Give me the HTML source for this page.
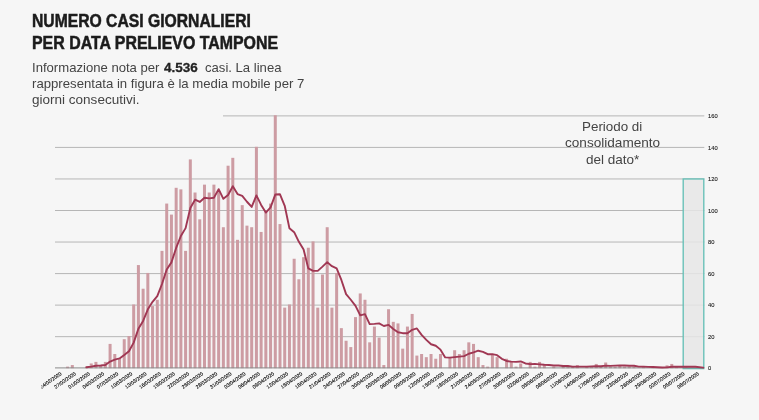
<!DOCTYPE html>
<html lang="it"><head><meta charset="utf-8"><title>Numero casi giornalieri per data prelievo tampone</title>
<style>
html,body{margin:0;padding:0;}
body{width:759px;height:420px;overflow:hidden;background:#f6f6f6;position:relative;font-family:"Liberation Sans",sans-serif;}
svg{position:absolute;left:0;top:0;}
.t{position:absolute;white-space:nowrap;transform-origin:0 0;}
h1{margin:0;font-size:17.6px;line-height:20.8px;font-weight:bold;color:#1c1c1c;-webkit-text-stroke:0.5px #1c1c1c;}
p{margin:0;font-size:13px;line-height:16.4px;color:#444;}
p b{color:#222;font-size:13.4px;margin-left:0.8px;-webkit-text-stroke:0.3px #222;}
.note{text-align:center;color:#444;font-size:13px;line-height:16.7px;}
</style></head><body>
<svg width="759" height="420" viewBox="0 0 759 420">
<defs><clipPath id="lc"><rect x="41.5" y="360" width="720" height="60"/></clipPath></defs>
<line x1="55" y1="336.66" x2="704.3" y2="336.66" stroke="#b6b6b6" stroke-width="1"/>
<line x1="55" y1="305.12" x2="704.3" y2="305.12" stroke="#b6b6b6" stroke-width="1"/>
<line x1="55" y1="273.58" x2="704.3" y2="273.58" stroke="#b6b6b6" stroke-width="1"/>
<line x1="55" y1="242.04" x2="704.3" y2="242.04" stroke="#b6b6b6" stroke-width="1"/>
<line x1="55" y1="210.50" x2="704.3" y2="210.50" stroke="#b6b6b6" stroke-width="1"/>
<line x1="55" y1="178.96" x2="704.3" y2="178.96" stroke="#b6b6b6" stroke-width="1"/>
<line x1="55" y1="147.42" x2="704.3" y2="147.42" stroke="#b6b6b6" stroke-width="1"/>
<line x1="223" y1="115.88" x2="704.3" y2="115.88" stroke="#b6b6b6" stroke-width="1"/>
<rect x="683.2" y="178.96" width="20.6" height="189.64" fill="#e6e6e6" fill-opacity="0.85" stroke="#66c0b7" stroke-width="1.35"/>
<g fill="#cd9ca3"><rect x="66.10" y="366.62" width="3.0" height="1.58"/><rect x="70.82" y="365.05" width="3.0" height="3.15"/><rect x="84.98" y="366.62" width="3.0" height="1.58"/><rect x="89.70" y="363.47" width="3.0" height="4.73"/><rect x="94.42" y="361.89" width="3.0" height="6.31"/><rect x="99.14" y="365.05" width="3.0" height="3.15"/><rect x="103.86" y="361.89" width="3.0" height="6.31"/><rect x="108.58" y="343.91" width="3.0" height="24.29"/><rect x="113.30" y="354.01" width="3.0" height="14.19"/><rect x="118.02" y="358.74" width="3.0" height="9.46"/><rect x="122.74" y="339.18" width="3.0" height="29.02"/><rect x="127.46" y="336.03" width="3.0" height="32.17"/><rect x="132.18" y="304.49" width="3.0" height="63.71"/><rect x="136.90" y="265.06" width="3.0" height="103.14"/><rect x="141.62" y="288.72" width="3.0" height="79.48"/><rect x="146.34" y="272.95" width="3.0" height="95.25"/><rect x="151.06" y="306.07" width="3.0" height="62.13"/><rect x="155.78" y="299.76" width="3.0" height="68.44"/><rect x="160.50" y="250.87" width="3.0" height="117.33"/><rect x="165.22" y="203.56" width="3.0" height="164.64"/><rect x="169.94" y="214.60" width="3.0" height="153.60"/><rect x="174.66" y="187.79" width="3.0" height="180.41"/><rect x="179.38" y="189.37" width="3.0" height="178.83"/><rect x="184.10" y="250.87" width="3.0" height="117.33"/><rect x="188.82" y="159.41" width="3.0" height="208.79"/><rect x="193.54" y="192.52" width="3.0" height="175.68"/><rect x="198.26" y="219.33" width="3.0" height="148.87"/><rect x="202.98" y="184.64" width="3.0" height="183.56"/><rect x="207.70" y="192.52" width="3.0" height="175.68"/><rect x="212.42" y="184.64" width="3.0" height="183.56"/><rect x="217.14" y="190.95" width="3.0" height="177.25"/><rect x="221.86" y="227.22" width="3.0" height="140.98"/><rect x="226.58" y="165.71" width="3.0" height="202.49"/><rect x="231.30" y="157.83" width="3.0" height="210.37"/><rect x="236.02" y="239.83" width="3.0" height="128.37"/><rect x="240.74" y="205.14" width="3.0" height="163.06"/><rect x="245.46" y="225.64" width="3.0" height="142.56"/><rect x="250.18" y="227.22" width="3.0" height="140.98"/><rect x="254.90" y="146.79" width="3.0" height="221.41"/><rect x="259.62" y="231.95" width="3.0" height="136.25"/><rect x="264.34" y="211.45" width="3.0" height="156.75"/><rect x="269.06" y="203.56" width="3.0" height="164.64"/><rect x="273.78" y="115.25" width="3.0" height="252.95"/><rect x="278.50" y="224.06" width="3.0" height="144.14"/><rect x="283.22" y="307.64" width="3.0" height="60.56"/><rect x="287.94" y="304.49" width="3.0" height="63.71"/><rect x="292.66" y="258.76" width="3.0" height="109.44"/><rect x="297.38" y="279.26" width="3.0" height="88.94"/><rect x="302.10" y="257.18" width="3.0" height="111.02"/><rect x="306.82" y="247.72" width="3.0" height="120.48"/><rect x="311.54" y="241.41" width="3.0" height="126.79"/><rect x="316.26" y="307.64" width="3.0" height="60.56"/><rect x="320.98" y="274.53" width="3.0" height="93.67"/><rect x="325.70" y="227.22" width="3.0" height="140.98"/><rect x="330.42" y="307.64" width="3.0" height="60.56"/><rect x="335.14" y="272.95" width="3.0" height="95.25"/><rect x="339.86" y="328.14" width="3.0" height="40.06"/><rect x="344.58" y="340.76" width="3.0" height="27.44"/><rect x="349.30" y="347.07" width="3.0" height="21.13"/><rect x="354.02" y="317.11" width="3.0" height="51.09"/><rect x="358.74" y="293.45" width="3.0" height="74.75"/><rect x="363.46" y="299.76" width="3.0" height="68.44"/><rect x="368.18" y="342.34" width="3.0" height="25.86"/><rect x="372.90" y="326.57" width="3.0" height="41.63"/><rect x="377.62" y="337.61" width="3.0" height="30.59"/><rect x="382.34" y="365.05" width="3.0" height="3.15"/><rect x="387.06" y="309.22" width="3.0" height="58.98"/><rect x="391.78" y="321.84" width="3.0" height="46.36"/><rect x="396.50" y="323.41" width="3.0" height="44.79"/><rect x="401.22" y="348.65" width="3.0" height="19.55"/><rect x="405.94" y="326.57" width="3.0" height="41.63"/><rect x="410.66" y="313.95" width="3.0" height="54.25"/><rect x="415.38" y="355.58" width="3.0" height="12.62"/><rect x="420.10" y="354.01" width="3.0" height="14.19"/><rect x="424.82" y="357.16" width="3.0" height="11.04"/><rect x="429.54" y="354.01" width="3.0" height="14.19"/><rect x="434.26" y="358.74" width="3.0" height="9.46"/><rect x="438.98" y="354.01" width="3.0" height="14.19"/><rect x="448.42" y="357.16" width="3.0" height="11.04"/><rect x="453.14" y="350.22" width="3.0" height="17.98"/><rect x="457.86" y="354.01" width="3.0" height="14.19"/><rect x="462.58" y="350.22" width="3.0" height="17.98"/><rect x="467.30" y="342.34" width="3.0" height="25.86"/><rect x="472.02" y="343.91" width="3.0" height="24.29"/><rect x="476.74" y="357.16" width="3.0" height="11.04"/><rect x="481.46" y="365.05" width="3.0" height="3.15"/><rect x="486.18" y="366.62" width="3.0" height="1.58"/><rect x="490.90" y="354.01" width="3.0" height="14.19"/><rect x="495.62" y="357.16" width="3.0" height="11.04"/><rect x="505.06" y="358.74" width="3.0" height="9.46"/><rect x="509.78" y="361.89" width="3.0" height="6.31"/><rect x="514.50" y="366.62" width="3.0" height="1.58"/><rect x="519.22" y="363.47" width="3.0" height="4.73"/><rect x="528.66" y="361.89" width="3.0" height="6.31"/><rect x="533.38" y="366.62" width="3.0" height="1.58"/><rect x="538.10" y="361.89" width="3.0" height="6.31"/><rect x="542.82" y="365.05" width="3.0" height="3.15"/><rect x="552.26" y="366.62" width="3.0" height="1.58"/><rect x="561.70" y="365.05" width="3.0" height="3.15"/><rect x="566.42" y="366.62" width="3.0" height="1.58"/><rect x="571.14" y="366.62" width="3.0" height="1.58"/><rect x="575.86" y="365.05" width="3.0" height="3.15"/><rect x="585.30" y="366.62" width="3.0" height="1.58"/><rect x="590.02" y="366.62" width="3.0" height="1.58"/><rect x="594.74" y="363.94" width="3.0" height="4.26"/><rect x="599.46" y="366.62" width="3.0" height="1.58"/><rect x="604.18" y="362.52" width="3.0" height="5.68"/><rect x="608.90" y="366.62" width="3.0" height="1.58"/><rect x="613.62" y="366.62" width="3.0" height="1.58"/><rect x="618.34" y="365.05" width="3.0" height="3.15"/><rect x="623.06" y="366.62" width="3.0" height="1.58"/><rect x="627.78" y="366.62" width="3.0" height="1.58"/><rect x="632.50" y="366.62" width="3.0" height="1.58"/><rect x="641.94" y="366.62" width="3.0" height="1.58"/><rect x="651.38" y="366.62" width="3.0" height="1.58"/><rect x="665.54" y="365.36" width="3.0" height="2.84"/><rect x="670.26" y="363.94" width="3.0" height="4.26"/><rect x="674.98" y="366.62" width="3.0" height="1.58"/><rect x="684.42" y="366.62" width="3.0" height="1.58"/></g>
<line x1="55" y1="367.9" x2="704.3" y2="367.9" stroke="#8a8a8a" stroke-width="1"/>
<polyline points="86.48,367.30 91.20,366.62 95.92,365.72 100.64,365.50 105.36,365.05 110.08,361.58 114.80,359.55 119.52,358.42 124.24,354.95 128.96,351.26 133.68,342.61 138.40,328.77 143.12,320.89 147.84,309.31 152.56,301.79 157.28,296.15 162.00,283.99 166.72,269.57 171.44,262.36 176.16,247.94 180.88,236.00 185.60,228.12 190.32,208.07 195.04,199.73 199.76,201.98 204.48,197.70 209.20,198.38 213.92,197.70 218.64,189.14 223.36,198.83 228.08,195.00 232.80,186.21 237.52,194.10 242.24,195.90 246.96,201.76 251.68,206.94 256.40,195.45 261.12,204.91 265.84,212.57 270.56,207.39 275.28,194.55 280.00,194.32 284.72,205.81 289.44,228.34 294.16,232.17 298.88,241.86 303.60,249.52 308.32,268.44 313.04,270.92 317.76,270.92 322.48,266.64 327.20,262.14 331.92,266.19 336.64,268.44 341.36,279.93 346.08,294.13 350.80,299.76 355.52,305.84 360.24,315.30 364.96,314.18 369.68,324.09 374.40,323.86 379.12,323.41 383.84,325.98 388.56,324.86 393.28,328.91 398.00,332.29 402.72,333.19 407.44,333.19 412.16,329.81 416.88,328.46 421.60,334.86 426.32,339.90 431.04,344.27 435.76,345.72 440.48,349.64 445.20,357.39 449.92,357.61 454.64,357.07 459.36,356.62 464.08,356.08 468.80,353.74 473.52,352.29 478.24,350.72 482.96,351.84 487.68,354.19 492.40,354.19 497.12,355.18 501.84,358.87 506.56,360.99 511.28,361.67 516.00,361.89 520.72,361.44 525.44,363.47 530.16,364.14 534.88,363.92 539.60,364.37 544.32,364.82 549.04,365.05 553.76,365.50 558.48,365.50 563.20,365.95 567.92,365.95 572.64,366.62 577.36,366.62 582.08,366.62 586.80,366.62 591.52,366.40 596.24,366.24 600.96,366.24 605.68,365.65 610.40,365.88 615.12,365.65 619.84,365.43 624.56,365.43 629.28,365.81 634.00,365.81 638.72,366.62 643.44,366.62 648.16,366.85 652.88,367.07 657.60,367.30 662.32,367.52 667.04,367.34 671.76,366.74 676.48,366.74 681.20,366.74 685.92,366.74 690.64,366.74 695.36,366.74 703.3,367.65" fill="none" stroke="#a03753" stroke-width="1.9" stroke-linejoin="round" stroke-linecap="round"/>
<g font-family="'Liberation Sans', sans-serif" font-size="5.8" fill="#1a1a1a" stroke="#1a1a1a" stroke-width="0.1"><text x="708" y="370.30">0</text><text x="708" y="338.76">20</text><text x="708" y="307.22">40</text><text x="708" y="275.68">60</text><text x="708" y="244.14">80</text><text x="708" y="212.60">100</text><text x="708" y="181.06">120</text><text x="708" y="149.52">140</text><text x="708" y="117.98">160</text></g>
<g font-family="'Liberation Sans', sans-serif" font-size="5" fill="#000" stroke="#000" stroke-width="0.12" clip-path="url(#lc)"><text transform="translate(59.76,371.30) rotate(-35)" text-anchor="end" dominant-baseline="hanging">24/02/2020</text><text transform="translate(73.92,371.30) rotate(-35)" text-anchor="end" dominant-baseline="hanging">27/02/2020</text><text transform="translate(88.08,371.30) rotate(-35)" text-anchor="end" dominant-baseline="hanging">01/03/2020</text><text transform="translate(102.24,371.30) rotate(-35)" text-anchor="end" dominant-baseline="hanging">04/03/2020</text><text transform="translate(116.40,371.30) rotate(-35)" text-anchor="end" dominant-baseline="hanging">07/03/2020</text><text transform="translate(130.56,371.30) rotate(-35)" text-anchor="end" dominant-baseline="hanging">10/03/2020</text><text transform="translate(144.72,371.30) rotate(-35)" text-anchor="end" dominant-baseline="hanging">13/03/2020</text><text transform="translate(158.88,371.30) rotate(-35)" text-anchor="end" dominant-baseline="hanging">16/03/2020</text><text transform="translate(173.04,371.30) rotate(-35)" text-anchor="end" dominant-baseline="hanging">19/03/2020</text><text transform="translate(187.20,371.30) rotate(-35)" text-anchor="end" dominant-baseline="hanging">22/03/2020</text><text transform="translate(201.36,371.30) rotate(-35)" text-anchor="end" dominant-baseline="hanging">25/03/2020</text><text transform="translate(215.52,371.30) rotate(-35)" text-anchor="end" dominant-baseline="hanging">28/03/2020</text><text transform="translate(229.68,371.30) rotate(-35)" text-anchor="end" dominant-baseline="hanging">31/03/2020</text><text transform="translate(243.84,371.30) rotate(-35)" text-anchor="end" dominant-baseline="hanging">03/04/2020</text><text transform="translate(258.00,371.30) rotate(-35)" text-anchor="end" dominant-baseline="hanging">06/04/2020</text><text transform="translate(272.16,371.30) rotate(-35)" text-anchor="end" dominant-baseline="hanging">09/04/2020</text><text transform="translate(286.32,371.30) rotate(-35)" text-anchor="end" dominant-baseline="hanging">12/04/2020</text><text transform="translate(300.48,371.30) rotate(-35)" text-anchor="end" dominant-baseline="hanging">15/04/2020</text><text transform="translate(314.64,371.30) rotate(-35)" text-anchor="end" dominant-baseline="hanging">18/04/2020</text><text transform="translate(328.80,371.30) rotate(-35)" text-anchor="end" dominant-baseline="hanging">21/04/2020</text><text transform="translate(342.96,371.30) rotate(-35)" text-anchor="end" dominant-baseline="hanging">24/04/2020</text><text transform="translate(357.12,371.30) rotate(-35)" text-anchor="end" dominant-baseline="hanging">27/04/2020</text><text transform="translate(371.28,371.30) rotate(-35)" text-anchor="end" dominant-baseline="hanging">30/04/2020</text><text transform="translate(385.44,371.30) rotate(-35)" text-anchor="end" dominant-baseline="hanging">03/05/2020</text><text transform="translate(399.60,371.30) rotate(-35)" text-anchor="end" dominant-baseline="hanging">06/05/2020</text><text transform="translate(413.76,371.30) rotate(-35)" text-anchor="end" dominant-baseline="hanging">09/05/2020</text><text transform="translate(427.92,371.30) rotate(-35)" text-anchor="end" dominant-baseline="hanging">12/05/2020</text><text transform="translate(442.08,371.30) rotate(-35)" text-anchor="end" dominant-baseline="hanging">15/05/2020</text><text transform="translate(456.24,371.30) rotate(-35)" text-anchor="end" dominant-baseline="hanging">18/05/2020</text><text transform="translate(470.40,371.30) rotate(-35)" text-anchor="end" dominant-baseline="hanging">21/05/2020</text><text transform="translate(484.56,371.30) rotate(-35)" text-anchor="end" dominant-baseline="hanging">24/05/2020</text><text transform="translate(498.72,371.30) rotate(-35)" text-anchor="end" dominant-baseline="hanging">27/05/2020</text><text transform="translate(512.88,371.30) rotate(-35)" text-anchor="end" dominant-baseline="hanging">30/05/2020</text><text transform="translate(527.04,371.30) rotate(-35)" text-anchor="end" dominant-baseline="hanging">02/06/2020</text><text transform="translate(541.20,371.30) rotate(-35)" text-anchor="end" dominant-baseline="hanging">05/06/2020</text><text transform="translate(555.36,371.30) rotate(-35)" text-anchor="end" dominant-baseline="hanging">08/06/2020</text><text transform="translate(569.52,371.30) rotate(-35)" text-anchor="end" dominant-baseline="hanging">11/06/2020</text><text transform="translate(583.68,371.30) rotate(-35)" text-anchor="end" dominant-baseline="hanging">14/06/2020</text><text transform="translate(597.84,371.30) rotate(-35)" text-anchor="end" dominant-baseline="hanging">17/06/2020</text><text transform="translate(612.00,371.30) rotate(-35)" text-anchor="end" dominant-baseline="hanging">20/06/2020</text><text transform="translate(626.16,371.30) rotate(-35)" text-anchor="end" dominant-baseline="hanging">23/06/2020</text><text transform="translate(640.32,371.30) rotate(-35)" text-anchor="end" dominant-baseline="hanging">26/06/2020</text><text transform="translate(654.48,371.30) rotate(-35)" text-anchor="end" dominant-baseline="hanging">29/06/2020</text><text transform="translate(668.64,371.30) rotate(-35)" text-anchor="end" dominant-baseline="hanging">02/07/2020</text><text transform="translate(682.80,371.30) rotate(-35)" text-anchor="end" dominant-baseline="hanging">05/07/2020</text><text transform="translate(696.96,371.30) rotate(-35)" text-anchor="end" dominant-baseline="hanging">08/07/2020</text></g>
</svg>
<h1 class="t" id="h1a" style="left:32.3px;top:11.0px;transform:scaleX(0.892);">NUMERO CASI GIORNALIERI</h1>
<h1 class="t" id="h1b" style="left:32.3px;top:33.0px;transform:scaleX(0.9046);">PER DATA PRELIEVO TAMPONE</h1>
<p class="t" id="p1" style="left:32px;top:60.4px;transform:scaleX(1.008);">Informazione nota per <b>4.536</b>&nbsp; casi. La linea</p>
<p class="t" id="p2" style="left:32px;top:76.4px;transform:scaleX(1.013);">rappresentata in figura è la media mobile per 7</p>
<p class="t" id="p3" style="left:32px;top:92.2px;transform:scaleX(1.04);">giorni consecutivi.</p>
<div class="t note" id="n1" style="left:582px;top:118.7px;transform:scaleX(1.03);">Periodo di</div>
<div class="t note" id="n2" style="left:564.8px;top:135.1px;transform:scaleX(1.045);">consolidamento</div>
<div class="t note" id="n3" style="left:585.6px;top:151.8px;transform:scaleX(1.04);">del dato*</div>
</body></html>
